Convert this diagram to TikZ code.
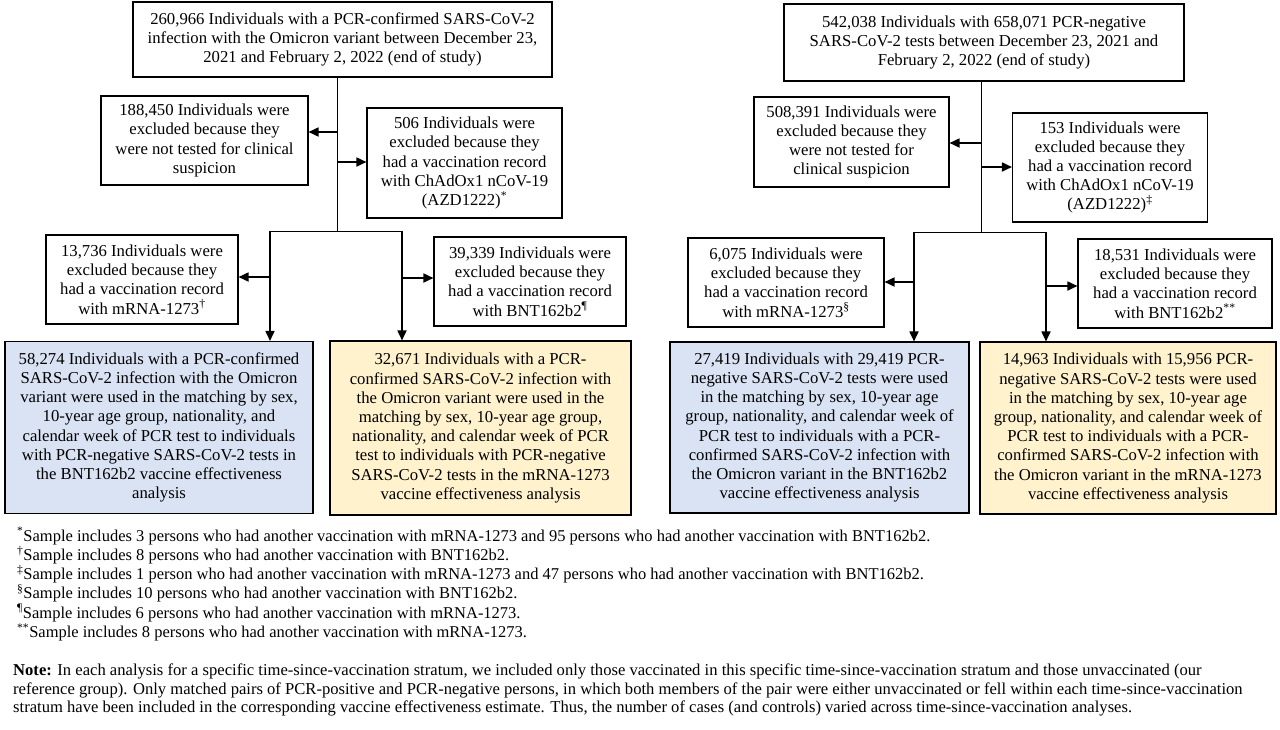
\documentclass[tikz,border=0pt]{standalone}
\usepackage{fontspec}
\setmainfont{Liberation Serif}
\usetikzlibrary{arrows.meta}
\definecolor{boxBlue}{RGB}{218,227,243}
\definecolor{boxYellow}{RGB}{255,242,204}
\tikzset{
    >={Triangle[length=10pt,width=9pt]},
    % Colors
    fillBlue/.style={fill=boxBlue},
    fillYellow/.style={fill=boxYellow},
    % Shapes
    box/.style={rectangle, draw=black, line width=1.1pt, align=center, inner sep=0pt,
                font=\fontsize{16.7pt}{19.2pt}\selectfont},
    % Flow & Labels
    link/.style={line width=0.9pt},
    flow/.style={->, line width=1.7pt},
    foot/.style={anchor=north west, align=left, inner sep=0pt}
}

\begin{document}
\begin{tikzpicture}[x=1pt, y=-1pt]
\useasboundingbox (0,0) rectangle (1280,729);

% left: PCR-confirmed cases
\node[box, minimum width=419pt, minimum height=75pt] (lTop) at (342.5,39.5)
  {260,966 Individuals with a PCR-confirmed SARS-CoV-2\\infection with the Omicron variant between December 23,\\2021 and February 2, 2022 (end of study)};
\node[box, minimum width=207pt, minimum height=89pt] (lEx1) at (204.5,140.5)
  {188,450 Individuals were\\excluded because they\\were not tested for clinical\\suspicion};
\node[box, minimum width=195pt, minimum height=110pt] (lEx2) at (464.5,163)
  {506 Individuals were\\excluded because they\\had a vaccination record\\with ChAdOx1 nCoV-19\\(AZD1222)\textsuperscript{*}};
\node[box, minimum width=192pt, minimum height=89pt] (lEx3) at (142,279.5)
  {13,736 Individuals were\\excluded because they\\had a vaccination record\\with mRNA-1273\textsuperscript{†}};
\node[box, minimum width=192pt, minimum height=89pt] (lEx4) at (530,281.5)
  {39,339 Individuals were\\excluded because they\\had a vaccination record\\with BNT162b2\textsuperscript{¶}};
\node[box, fillBlue, minimum width=308pt, minimum height=172pt] (lBlue) at (159,427.5)
  {58,274 Individuals with a PCR-confirmed\\SARS-CoV-2 infection with the Omicron\\variant were used in the matching by sex,\\10-year age group, nationality, and\\calendar week of PCR test to individuals\\with PCR-negative SARS-CoV-2 tests in\\the BNT162b2 vaccine effectiveness\\analysis};
\node[box, fillYellow, minimum width=301pt, minimum height=174pt] (lYellow) at (480.5,428)
  {32,671 Individuals with a PCR-\\confirmed SARS-CoV-2 infection with\\the Omicron variant were used in the\\matching by sex, 10-year age group,\\nationality, and calendar week of PCR\\test to individuals with PCR-negative\\SARS-CoV-2 tests in the mRNA-1273\\vaccine effectiveness analysis};

\coordinate (lSplit) at (337,231);
\coordinate (lSplitL) at (270,231);
\coordinate (lSplitR) at (402,231);
\coordinate (lA1) at (337,132);
\coordinate (lA2) at (337,162);
\coordinate (lA3) at (270,277);
\coordinate (lA4) at (402,278);

\draw[link] (lTop.south -| lSplit) -- (lSplit);
\draw[link] (lSplitL) -- (lSplitR);
\draw[flow] (lA1) -- (lA1 -| lEx1.east);
\draw[flow] (lA2) -- (lA2 -| lEx2.west);
\draw[flow] (lA3) -- (lA3 -| lEx3.east);
\draw[flow] (lA4) -- (lA4 -| lEx4.west);
\draw[flow] (lSplitL) -- (lSplitL |- lBlue.north);
\draw[flow] (lSplitR) -- (lSplitR |- lYellow.north);

% right: PCR-negative controls
\node[box, minimum width=400pt, minimum height=77pt] (rTop) at (984,42.5)
  {542,038 Individuals with 658,071 PCR-negative\\SARS-CoV-2 tests between December 23, 2021 and\\February 2, 2022 (end of study)};
\node[box, minimum width=195pt, minimum height=90pt] (rEx1) at (851.5,142)
  {508,391 Individuals were\\excluded because they\\were not tested for\\clinical suspicion};
\node[box, minimum width=195pt, minimum height=109pt] (rEx2) at (1110,167.5)
  {153 Individuals were\\excluded because they\\had a vaccination record\\with ChAdOx1 nCoV-19\\(AZD1222)\textsuperscript{‡}};
\node[box, minimum width=196pt, minimum height=89pt] (rEx3) at (786,282.5)
  {6,075 Individuals were\\excluded because they\\had a vaccination record\\with mRNA-1273\textsuperscript{§}};
\node[box, minimum width=194pt, minimum height=89pt] (rEx4) at (1175,283.5)
  {18,531 Individuals were\\excluded because they\\had a vaccination record\\with BNT162b2\textsuperscript{**}};
\node[box, fillBlue, minimum width=299pt, minimum height=171pt] (rBlue) at (819.5,427.5)
  {27,419 Individuals with 29,419 PCR-\\negative SARS-CoV-2 tests were used\\in the matching by sex, 10-year age\\group, nationality, and calendar week of\\PCR test to individuals with a PCR-\\confirmed SARS-CoV-2 infection with\\the Omicron variant in the BNT162b2\\vaccine effectiveness analysis};
\node[box, fillYellow, minimum width=296pt, minimum height=172pt] (rYellow) at (1128,428)
  {14,963 Individuals with 15,956 PCR-\\negative SARS-CoV-2 tests were used\\in the matching by sex, 10-year age\\group, nationality, and calendar week of\\PCR test to individuals with a PCR-\\confirmed SARS-CoV-2 infection with\\the Omicron variant in the mRNA-1273\\vaccine effectiveness analysis};

\coordinate (rSplit) at (981,232);
\coordinate (rSplitL) at (914,232);
\coordinate (rSplitR) at (1046,232);
\coordinate (rA1) at (981,143);
\coordinate (rA2) at (981,167);
\coordinate (rA3) at (914,282);
\coordinate (rA4) at (1046,286);

\draw[link] (rTop.south -| rSplit) -- (rSplit);
\draw[link] (rSplitL) -- (rSplitR);
\draw[flow] (rA1) -- (rA1 -| rEx1.east);
\draw[flow] (rA2) -- (rA2 -| rEx2.west);
\draw[flow] (rA3) -- (rA3 -| rEx3.east);
\draw[flow] (rA4) -- (rA4 -| rEx4.west);
\draw[flow] (rSplitL) -- (rSplitL |- rBlue.north);
\draw[flow] (rSplitR) -- (rSplitR |- rYellow.north);

% footnotes
\node[foot, font=\fontsize{16.5pt}{19.3pt}\selectfont] (fnotes) at (17,527)
  {\textsuperscript{*}Sample includes 3 persons who had another vaccination with mRNA-1273 and 95 persons who had another vaccination with BNT162b2.\\
   \textsuperscript{†}Sample includes 8 persons who had another vaccination with BNT162b2.\\
   \textsuperscript{‡}Sample includes 1 person who had another vaccination with mRNA-1273 and 47 persons who had another vaccination with BNT162b2.\\
   \textsuperscript{§}Sample includes 10 persons who had another vaccination with BNT162b2.\\
   \textsuperscript{¶}Sample includes 6 persons who had another vaccination with mRNA-1273.\\
   \textsuperscript{**}Sample includes 8 persons who had another vaccination with mRNA-1273.};
\node[foot, font=\fontsize{16.6pt}{18.5pt}\selectfont] (note) at (13,664)
  {\textbf{Note:} In each analysis for a specific time-since-vaccination stratum, we included only those vaccinated in this specific time-since-vaccination stratum and those unvaccinated (our\\
   reference group). Only matched pairs of PCR-positive and PCR-negative persons, in which both members of the pair were either unvaccinated or fell within each time-since-vaccination\\
   stratum have been included in the corresponding vaccine effectiveness estimate. Thus, the number of cases (and controls) varied across time-since-vaccination analyses.};
\end{tikzpicture}
\end{document}
